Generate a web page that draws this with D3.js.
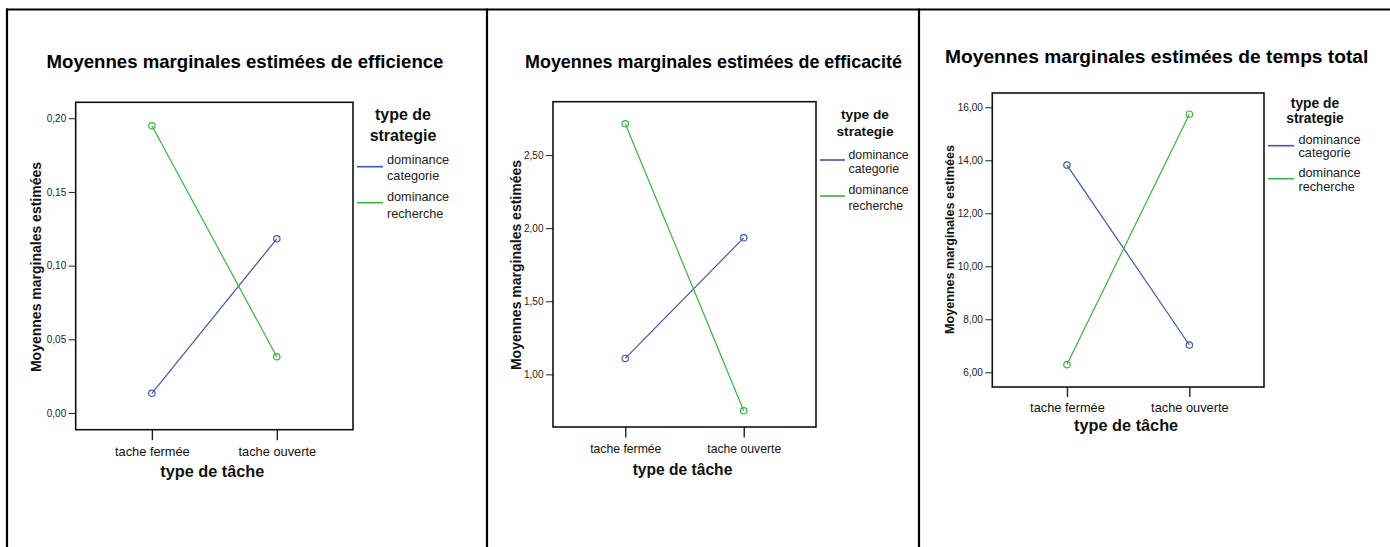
<!DOCTYPE html>
<html>
<head>
<meta charset="utf-8">
<script src="https://cdn.jsdelivr.net/npm/d3@7"></script>
<style>
  html, body { margin: 0; padding: 0; background: #fff; }
  svg { display: block; font-family: "Liberation Sans", Arial, sans-serif; }
</style>
</head>
<body>
<svg id="chart" width="1390" height="547"></svg>
<script>
// Categories and groups shared by the three profile plots
const taskTypes = ["tache fermée", "tache ouverte"];
const strategyNames = ["dominance categorie", "dominance recherche"];
const strategyLegendLines = [["dominance", "categorie"], ["dominance", "recherche"]];

// Estimated marginal means: efficience
const efficienceCategorie = [0.0134, 0.1182];
const efficienceRecherche = [0.1949, 0.0382];
const efficienceTicks = [0.00, 0.05, 0.10, 0.15, 0.20];

// Estimated marginal means: efficacité
const efficaciteCategorie = [1.109, 1.934];
const efficaciteRecherche = [2.714, 0.751];
const efficaciteTicks = [1.00, 1.50, 2.00, 2.50];

// Estimated marginal means: temps total
const tempsCategorie = [13.82, 7.03];
const tempsRecherche = [6.29, 15.74];
const tempsTicks = [6, 8, 10, 12, 14, 16];

const titles = [
  "Moyennes marginales estimées de efficience",
  "Moyennes marginales estimées de efficacité",
  "Moyennes marginales estimées de temps total"
];
const yAxisTitle = "Moyennes marginales estimées";
const xAxisTitle = "type de tâche";
const legendTitle = ["type de", "strategie"];

const strategyColors = ["#4257b3", "#38b540"];

// French number format: comma as decimal separator
const fr = d3.formatLocale({ decimal: ",", thousands: " ", grouping: [3], currency: ["", " €"] });
const fmt = fr.format(".2f");

// Panel geometry
const panels = [
  {
    series: [efficienceCategorie, efficienceRecherche], ticks: efficienceTicks,
    domain: [-0.0113, 0.2108], title: titles[0],
    box: { x0: 75.7, x1: 353, y0: 102.3, y1: 429.7 },
    titleX: 245, titleY: 68, titleSize: 18.6,
    yTitleX: 41, yTitleY: 267, yTitleSize: 14,
    xLabelY: 456, xLabelSize: 12.8, xTickLen: 10.5,
    xTitleY: 477, xTitleSize: 16.3,
    legX: 403, legTitleY: [120, 140.5], legTitleSize: 16,
    legLineX: [357, 383], legLineY: [166.7, 202.7],
    legTextX: 387, legTextY: [[164, 179.5], [201, 218]], legTextSize: 12.7
  },
  {
    series: [efficaciteCategorie, efficaciteRecherche], ticks: efficaciteTicks,
    domain: [0.64, 2.865], title: titles[1],
    box: { x0: 553, x1: 816, y0: 101.7, y1: 427 },
    titleX: 713.5, titleY: 68, titleSize: 17.9,
    yTitleX: 520.5, yTitleY: 265, yTitleSize: 14,
    xLabelY: 453, xLabelSize: 12.2, xTickLen: 10.5,
    xTitleY: 475, xTitleSize: 15.6,
    legX: 865, legTitleY: [119, 135.5], legTitleSize: 13.7,
    legLineX: [820, 845], legLineY: [160, 196],
    legTextX: 848.5, legTextY: [[158.5, 172.5], [193.5, 209.5]], legTextSize: 12.3
  },
  {
    series: [tempsCategorie, tempsRecherche], ticks: tempsTicks,
    domain: [5.445, 16.54], title: titles[2],
    box: { x0: 992.3, x1: 1264, y0: 93, y1: 387 },
    titleX: 1156.7, titleY: 63, titleSize: 19.2,
    yTitleX: 954, yTitleY: 239.5, yTitleSize: 12.6,
    xLabelY: 411.5, xLabelSize: 12.8, xTickLen: 10,
    xTitleY: 430.5, xTitleSize: 16.3,
    legX: 1315, legTitleY: [108, 123], legTitleSize: 13.8,
    legLineX: [1268, 1294], legLineY: [145.7, 178.7],
    legTextX: 1298.5, legTextY: [[143.5, 157], [176.5, 190.5]], legTextSize: 12.7
  }
];

const svg = d3.select("#chart");

// Outer table frame
const frame = svg.append("g").attr("stroke", "#000").attr("stroke-width", 2.2);
frame.append("line").attr("x1", 6).attr("x2", 1390).attr("y1", 9.5).attr("y2", 9.5);
[7, 487, 919].forEach(x => {
  frame.append("line").attr("x1", x).attr("x2", x).attr("y1", 8.5).attr("y2", 547);
});

panels.forEach(p => {
  const g = svg.append("g");
  const b = p.box;

  const x = d3.scalePoint().domain(taskTypes).range([b.x0, b.x1]).padding(0.61);
  const y = d3.scaleLinear().domain(p.domain).range([b.y1, b.y0]);

  // Title
  g.append("text")
    .attr("x", p.titleX).attr("y", p.titleY)
    .attr("text-anchor", "middle")
    .attr("font-weight", "bold").attr("font-size", p.titleSize)
    .attr("fill", "#000")
    .text(p.title);

  // Y axis
  const yAxis = g.append("g")
    .attr("transform", `translate(${b.x0},0)`)
    .call(d3.axisLeft(y).tickValues(p.ticks).tickFormat(fmt).tickSize(7).tickPadding(2.5));
  yAxis.select(".domain").remove();
  yAxis.selectAll(".tick line").attr("stroke", "#222").attr("stroke-width", 1);
  yAxis.selectAll(".tick text")
    .attr("font-family", "Liberation Sans, Arial, sans-serif")
    .attr("font-size", 10).attr("fill", "#222");

  // X axis
  const xAxis = g.append("g")
    .attr("transform", `translate(0,${b.y1})`)
    .call(d3.axisBottom(x).tickSize(p.xTickLen).tickPadding(0));
  xAxis.select(".domain").remove();
  xAxis.selectAll(".tick line").attr("stroke", "#222").attr("stroke-width", 1.4);
  xAxis.selectAll(".tick text")
    .attr("font-family", "Liberation Sans, Arial, sans-serif")
    .attr("font-size", p.xLabelSize).attr("fill", "#111")
    .attr("dy", null)
    .attr("y", p.xLabelY - b.y1);

  // Plot frame
  g.append("rect")
    .attr("x", b.x0).attr("y", b.y0)
    .attr("width", b.x1 - b.x0).attr("height", b.y1 - b.y0)
    .attr("fill", "none").attr("stroke", "#111").attr("stroke-width", 1.6);

  // Profile lines and markers
  const line = d3.line().x((d, i) => x(taskTypes[i])).y(d => y(d));
  p.series.forEach((vals, si) => {
    g.append("path")
      .datum(vals)
      .attr("d", line)
      .attr("fill", "none")
      .attr("stroke", strategyColors[si])
      .attr("stroke-width", 1.2);
    g.selectAll(null)
      .data(vals)
      .join("circle")
      .attr("cx", (d, i) => x(taskTypes[i]))
      .attr("cy", d => y(d))
      .attr("r", 3.2)
      .attr("fill", "none")
      .attr("stroke", strategyColors[si])
      .attr("stroke-width", 1.2);
  });

  // Axis titles
  g.append("text")
    .attr("x", (b.x0 + b.x1) / 2 - 2).attr("y", p.xTitleY)
    .attr("text-anchor", "middle")
    .attr("font-weight", "bold").attr("font-size", p.xTitleSize)
    .attr("fill", "#111")
    .text(xAxisTitle);

  g.append("text")
    .attr("transform", `translate(${p.yTitleX},${p.yTitleY}) rotate(-90)`)
    .attr("text-anchor", "middle")
    .attr("font-weight", "bold").attr("font-size", p.yTitleSize)
    .attr("fill", "#111")
    .text(yAxisTitle);

  // Legend
  legendTitle.forEach((t, i) => {
    g.append("text")
      .attr("x", p.legX).attr("y", p.legTitleY[i])
      .attr("text-anchor", "middle")
      .attr("font-weight", "bold").attr("font-size", p.legTitleSize)
      .attr("fill", "#111")
      .text(t);
  });
  strategyNames.forEach((name, si) => {
    g.append("line")
      .attr("x1", p.legLineX[0]).attr("x2", p.legLineX[1])
      .attr("y1", p.legLineY[si]).attr("y2", p.legLineY[si])
      .attr("stroke", strategyColors[si]).attr("stroke-width", 1.6);
    strategyLegendLines[si].forEach((t, li) => {
      g.append("text")
        .attr("x", p.legTextX).attr("y", p.legTextY[si][li])
        .attr("font-size", p.legTextSize)
        .attr("fill", "#222")
        .text(t);
    });
  });
});
</script>
</body>
</html>
